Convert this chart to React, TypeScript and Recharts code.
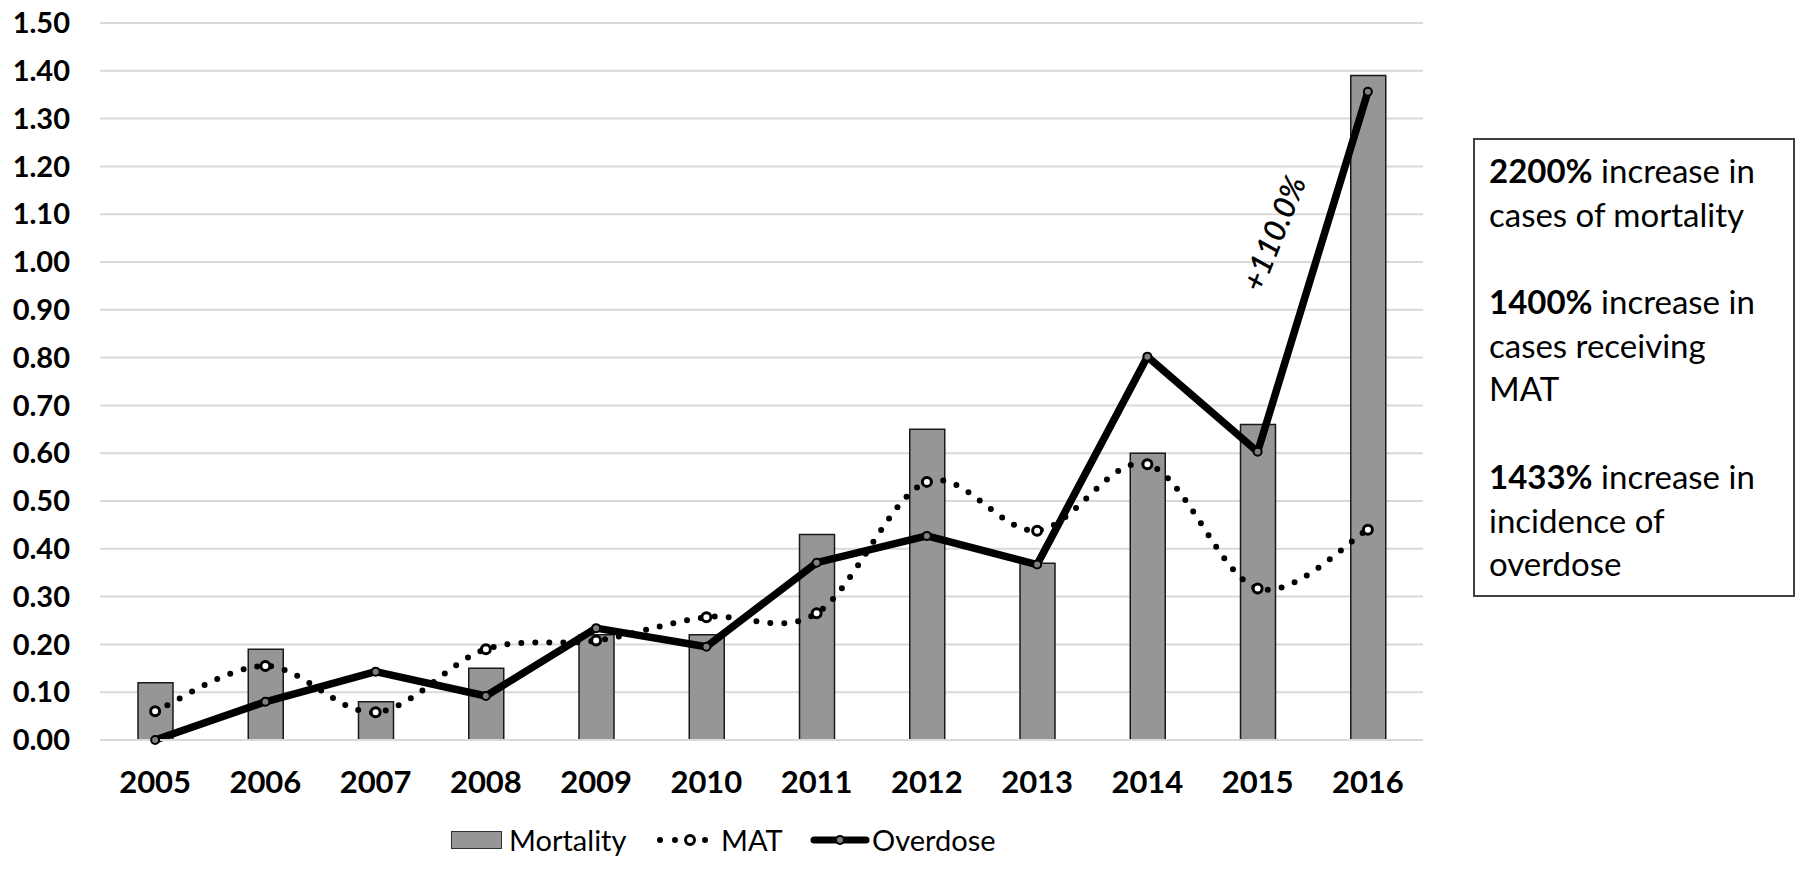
import React from 'react';
import { ComposedChart, Bar, Line, XAxis, YAxis, CartesianGrid, Legend } from 'recharts';

const years = ['2005', '2006', '2007', '2008', '2009', '2010', '2011', '2012', '2013', '2014', '2015', '2016'];
const mortality = [0.12, 0.19, 0.08, 0.15, 0.22, 0.22, 0.43, 0.65, 0.37, 0.6, 0.66, 1.39];
const mat = [0.06, 0.155, 0.058, 0.19, 0.208, 0.257, 0.265, 0.54, 0.438, 0.577, 0.317, 0.44];
const overdose = [0, 0.08, 0.143, 0.092, 0.234, 0.195, 0.371, 0.427, 0.367, 0.802, 0.603, 1.356];
const yTicks = [0, 0.1, 0.2, 0.3, 0.4, 0.5, 0.6, 0.7, 0.8, 0.9, 1.0, 1.1, 1.2, 1.3, 1.4, 1.5];
const seriesNames = ['Mortality', 'MAT', 'Overdose'];
const boxLines: [string, string][] = [
  ['2200%', ' increase in'],
  ['', 'cases of mortality'],
  ['', ''],
  ['1400%', ' increase in'],
  ['', 'cases receiving'],
  ['', 'MAT'],
  ['', ''],
  ['1433%', ' increase in'],
  ['', 'incidence of'],
  ['', 'overdose'],
];
const annotation = '+110.0%';

const data = years.map((y, i) => ({ year: y, Mortality: mortality[i], MAT: mat[i], Overdose: overdose[i] }));

const FONT = 'Lato, "Open Sans", sans-serif';

const catmullRom = (context: any) => {
  let pts: number[][] = [];
  return {
    areaStart() {},
    areaEnd() {},
    lineStart() {
      pts = [];
    },
    point(x: number, y: number) {
      pts.push([+x, +y]);
    },
    lineEnd() {
      const n = pts.length;
      if (n === 0) return;
      context.moveTo(pts[0][0], pts[0][1]);
      for (let i = 0; i < n - 1; i++) {
        const p0 = pts[i - 1] || pts[i];
        const p1 = pts[i];
        const p2 = pts[i + 1];
        const p3 = pts[i + 2] || pts[i + 1];
        context.bezierCurveTo(
          p1[0] + (p2[0] - p0[0]) / 6,
          p1[1] + (p2[1] - p0[1]) / 6,
          p2[0] - (p3[0] - p1[0]) / 6,
          p2[1] - (p3[1] - p1[1]) / 6,
          p2[0],
          p2[1]
        );
      }
    },
  };
};

const MatDot = (props: any) => {
  const { cx, cy, index } = props;
  if (cx == null || cy == null) return <g key={index} />;
  return <circle key={index} cx={cx} cy={cy} r={4.5} fill="#fff" stroke="#000" strokeWidth={3} />;
};

const OdDot = (props: any) => {
  const { cx, cy, index } = props;
  if (cx == null || cy == null) return <g key={index} />;
  return <circle key={index} cx={cx} cy={cy} r={4} fill="#808080" stroke="#000" strokeWidth={2} />;
};

const LegendContent = () => {
  const textStyle: React.CSSProperties = {
    position: 'absolute',
    top: 2,
    fontFamily: FONT,
    fontSize: 29,
    lineHeight: '36px',
    color: '#000',
    whiteSpace: 'nowrap',
  };
  return (
    <div style={{ position: 'relative', width: 1450, height: 55 }}>
      <div
        style={{
          position: 'absolute',
          left: 451,
          top: 11,
          width: 51,
          height: 18,
          boxSizing: 'border-box',
          background: '#969696',
          border: '1.5px solid #333',
        }}
      />
      <span style={{ ...textStyle, left: 509 }}>{seriesNames[0]}</span>
      <svg style={{ position: 'absolute', left: 652, top: 10 }} width={62} height={20}>
        <line x1={8} y1={10} x2={56} y2={10} stroke="#000" strokeWidth={6} strokeDasharray="0 15" strokeLinecap="round" />
        <circle cx={38} cy={10} r={4.5} fill="#fff" stroke="#000" strokeWidth={3} />
      </svg>
      <span style={{ ...textStyle, left: 721 }}>{seriesNames[1]}</span>
      <svg style={{ position: 'absolute', left: 808, top: 10 }} width={64} height={20}>
        <line x1={6} y1={10} x2={58} y2={10} stroke="#000" strokeWidth={7} strokeLinecap="round" />
        <circle cx={32} cy={10} r={4} fill="#808080" stroke="#000" strokeWidth={2} />
      </svg>
      <span style={{ ...textStyle, left: 872 }}>{seriesNames[2]}</span>
    </div>
  );
};

export default function App() {
  return (
    <div style={{ position: 'absolute', left: 0, top: 0, width: 1800, height: 875, background: '#fff', overflow: 'hidden' }}>
      <ComposedChart
        width={1450}
        height={875}
        data={data}
        margin={{ top: 23, right: 27, bottom: 0, left: 0 }}
      >
        <CartesianGrid vertical={false} stroke="#d9d9d9" strokeWidth={2} />
        <XAxis
          dataKey="year"
          height={80}
          tickLine={false}
          tickSize={0}
          tickMargin={31}
          axisLine={{ stroke: '#d9d9d9', strokeWidth: 2 }}
          tick={{ fontFamily: FONT, fontSize: 31, fontWeight: 700, fill: '#000' }}
          interval={0}
        />
        <YAxis
          width={100}
          domain={[0, 1.5]}
          ticks={yTicks}
          interval={0}
          tickFormatter={(v: number) => v.toFixed(2)}
          tickLine={false}
          tickSize={0}
          tickMargin={30}
          axisLine={false}
          tick={{ fontFamily: FONT, fontSize: 29, fontWeight: 700, fill: '#000' }}
        />
        <Legend
          verticalAlign="bottom"
          height={55}
          content={<LegendContent />}
          wrapperStyle={{ left: 0, width: 1450, bottom: 0, height: 55 }}
        />
        <Bar dataKey="Mortality" barSize={35} fill="#969696" stroke="#1a1a1a" strokeWidth={1.5} isAnimationActive={false} />
        <Line
          dataKey="MAT"
          type={catmullRom as any}
          stroke="#000"
          strokeWidth={6}
          strokeDasharray="0 14"
          strokeLinecap="round"
          dot={MatDot}
          activeDot={false}
          isAnimationActive={false}
        />
        <Line
          dataKey="Overdose"
          type="linear"
          stroke="#000"
          strokeWidth={7.5}
          strokeLinejoin="round"
          dot={OdDot}
          activeDot={false}
          isAnimationActive={false}
        />
      </ComposedChart>
      <div
        style={{
          position: 'absolute',
          left: 1273,
          top: 233,
          transform: 'translate(-50%, -50%) rotate(-68deg)',
          fontFamily: FONT,
          fontSize: 31,
          fontWeight: 600,
          fontStyle: 'italic',
          whiteSpace: 'nowrap',
          color: '#000',
        }}
      >
        {annotation}
      </div>
      <div
        style={{
          position: 'absolute',
          left: 1473,
          top: 138,
          width: 322,
          height: 459,
          border: '2px solid #404040',
          fontFamily: FONT,
          fontSize: 33,
          lineHeight: '43.7px',
          color: '#000',
          paddingTop: 9,
          paddingLeft: 14,
          boxSizing: 'border-box',
          whiteSpace: 'nowrap',
        }}
      >
        {boxLines.map(([b, t], i) => (
          <div key={i} style={{ height: 43.7 }}>
            {b ? <b>{b}</b> : null}
            {t}
          </div>
        ))}
      </div>
    </div>
  );
}
